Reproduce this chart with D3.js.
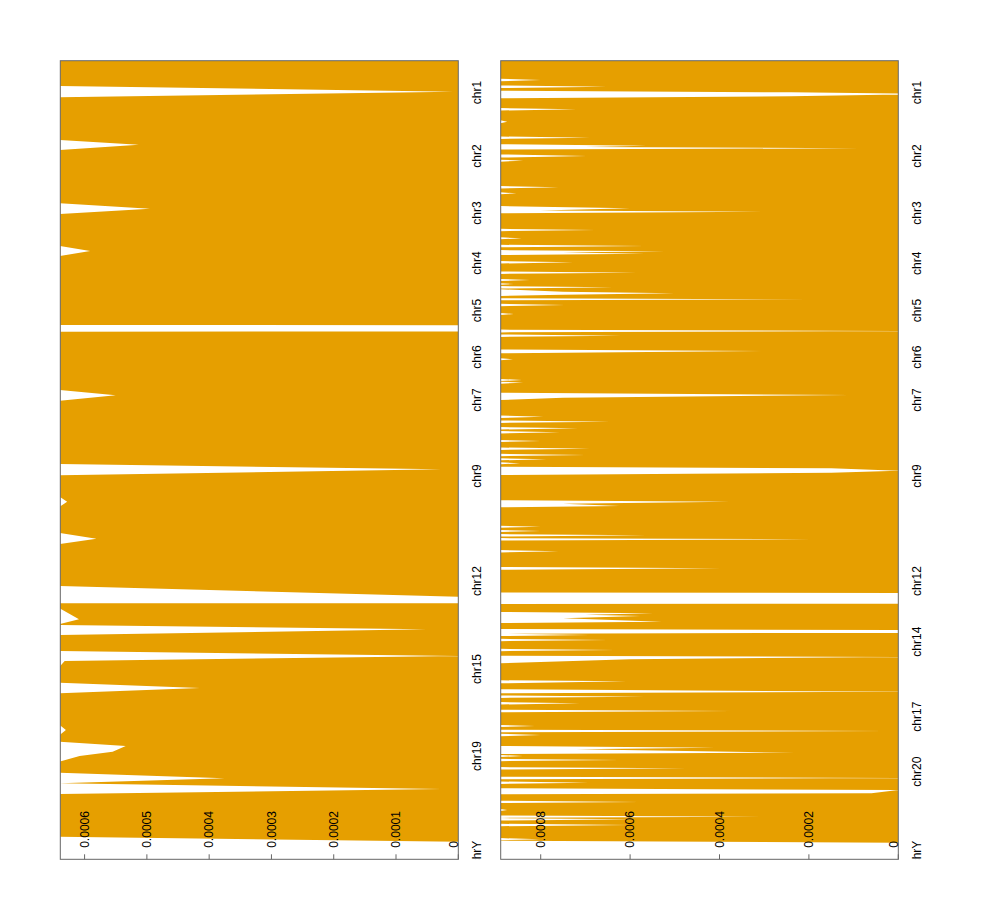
<!DOCTYPE html>
<html><head><meta charset="utf-8">
<script src="https://cdn.jsdelivr.net/npm/d3@7"></script>
<style>body{margin:0;background:#fff}</style></head><body>
<script>
// ---------- data ----------
// value ceiling (at / just above the axis range, clipped by the panel)
const HI1 = 0.00064;
const HI2 = 0.00089;

// panel A: [genome position index, value]
const seriesA = [
 [0,HI1],[25.3,HI1],[31.0,0.000008],[36.6,HI1],
 [79.3,HI1],[84.0,0.000513],[89.3,HI1],
 [142.6,HI1],[148.0,0.000495],[153.3,HI1],
 [185.3,HI1],[190.3,0.000591],[195.3,HI1],
 [264.3,HI1],[264.5,0],[270.8,0],[271.0,HI1],
 [329.3,HI1],[334.6,0.00055],[340,HI1],
 [403.3,HI1],[408.6,0.000027],[414.6,HI1],
 [436,HI1],[441,0.000628],[446,HI1],
 [472.3,HI1],[478,0.000581],[483.3,HI1],
 [525.3,HI1],[536,0],[542.3,0],[542.6,HI1],
 [547.6,HI1],[558.6,0.000609],[563.3,HI1],
 [564.3,HI1],[568.6,0.000051],[574.3,HI1],
 [590.3,HI1],[595.3,0],[600.3,0.000632],[606,HI1],
 [622,HI1],[627.3,0.000415],[632.6,HI1],
 [664.3,HI1],[669.3,0.00063],[674.3,HI1],
 [681,HI1],[685.3,0.000534],[691,0.000555],[695.3,0.000608],[701,HI1],
 [712,HI1],[717.6,0.000375],[722.6,HI1],[728.3,0.000027],[733.3,HI1],
 [776,HI1],[781,0]
];

// panel B: [genome position index, value]
const seriesB = [
 [0,HI2],
 [18.1,HI2],[19.3,0.0008],[20.5,HI2],
 [24.7,HI2],[26,0.000652],[27.3,HI2],
 [30,HI2],[31.6,0.00024],[32.8,0],[33.8,0],[35.6,0.00024],[37.6,HI2],
 [47.4,HI2],[48.6,0.00072],[49.8,HI2],
 [59.5,HI2],[61,0.000875],[62.5,HI2],
 [75.8,HI2],[77,0.00069],[78.2,HI2],
 [83.5,HI2],[85,0.000563],[86.3,0.0007],[87.6,0.000086],[88.8,HI2],
 [93.7,HI2],[95.3,0.000697],[96.9,HI2],
 [99,HI2],[100,0.000839],[101,HI2],
 [125.4,HI2],[126.6,0.00076],[127.8,HI2],
 [131.6,HI2],[132.6,0.000854],[133.6,HI2],
 [145.3,HI2],[147.6,0.0006],[149.8,0.0008],[151,0.000302],[152.6,HI2],
 [168.1,HI2],[169.3,0.000678],[170.5,HI2],
 [176.6,HI2],[177.6,0.000842],[178.6,HI2],
 [184.1,HI2],[185.3,0.000567],[186.6,HI2],
 [189.4,HI2],[190.6,0.000522],[191.9,0.00075],[193.1,0.000567],[194.4,HI2],
 [200.4,HI2],[201.6,0.000727],[202.8,HI2],
 [210.8,HI2],[212,0.000585],[213.2,HI2],
 [218.3,HI2],[219.3,0.000824],[220.3,HI2],
 [222.5,HI2],[223.3,0.00086],[224.1,HI2],
 [225.4,HI2],[226.6,0.000638],[227.8,HI2],
 [228.6,HI2],[231,0.00075],[232.6,0.0005],[234,0.00075],[235.3,HI2],
 [237.6,HI2],[238.6,0.0002],[239.6,HI2],
 [243.1,HI2],[244.3,0.000746],[245.5,HI2],
 [252.3,HI2],[253.3,0.00086],[254.3,HI2],
 [268.9,HI2],[270.3,0],[271.7,HI2],
 [273.8,HI2],[275,0.000619],[276.2,HI2],
 [288.8,HI2],[290.3,0.000306],[292.6,HI2],
 [297.6,HI2],[298.6,0.000862],[299.6,HI2],
 [318.3,HI2],[319.3,0.000842],[320.3,HI2],
 [321,HI2],[322,0.000839],[323,HI2],
 [332,HI2],[334.3,0.000108],[337,0.00075],[339.3,HI2],
 [354.8,HI2],[356,0.000794],[357.2,HI2],
 [359.8,HI2],[361,0.000645],[362.2,HI2],
 [366.4,HI2],[367.6,0.000716],[368.8,HI2],
 [370.4,HI2],[371.6,0.000757],[372.8,HI2],
 [379.3,HI2],[380.3,0.0008],[381.3,HI2],
 [386.8,HI2],[388,0.00069],[389.2,HI2],
 [393.1,HI2],[394.3,0.0007],[395.5,HI2],
 [397.6,HI2],[398.6,0.000787],[399.6,HI2],
 [401.6,HI2],[402.6,0.000846],[403.6,HI2],
 [406,HI2],[407.6,0.00015],[410,0],[412,0.00015],[414.3,HI2],
 [439.6,HI2],[441,0.000377],[443,0.00075],[445.3,0.000623],[446.6,HI2],
 [465,HI2],[466,0.0008],[467,HI2],
 [469.3,HI2],[470.3,0.0008],[471.3,HI2],
 [473.4,HI2],[474.6,0.000563],[475.8,HI2],
 [477.4,HI2],[478.6,0.000194],[479.8,HI2],
 [489.4,HI2],[490.6,0.00076],[491.8,HI2],
 [506.2,HI2],[507.6,0.000395],[509,HI2],
 [531.8,HI2],[532.3,0],[542.8,0],[543.3,HI2],
 [551.3,HI2],[552.6,0.000548],[554,0.0007],[555.3,0.000577],[557.5,0.00075],[561,0.000529],[562.3,HI2],
 [568.3,HI2],[569.3,0],[572,0],[573,HI2],[574.3,0.00069],[575.3,HI2],
 [578.1,HI2],[579.3,0.000649],[580.5,HI2],
 [588.1,HI2],[589.3,0.000634],[590.5,HI2],
 [595,HI2],[596.3,0],[598.5,0.0006],[602.6,HI2],
 [619.6,HI2],[620.6,0.000608],[622.6,HI2],
 [628.6,HI2],[631,0],[632.6,HI2],
 [634.8,HI2],[636,0.000567],[637.2,HI2],
 [641.4,HI2],[642.6,0.000712],[643.8,HI2],
 [649.1,HI2],[650.3,0.000373],[651.5,HI2],
 [664.3,HI2],[665.3,0.000813],[666.3,HI2],
 [669.1,HI2],[670.3,0.000026],[671.5,HI2],
 [673.1,HI2],[674.3,0.0008],[675.5,HI2],
 [685.3,HI2],[687,0.00041],[688.6,0.00072],[692,0.000231],[693.3,HI2],
 [694.3,HI2],[695.3,0.00084],[696.3,HI2],
 [698.1,HI2],[699.3,0.000623],[700.5,HI2],
 [706.4,HI2],[707.6,0.000473],[708.8,HI2],
 [716,HI2],[717.3,0],[718.6,HI2],
 [720.8,HI2],[722,0.000693],[723.2,HI2],
 [727.6,HI2],[729.3,0],[732.6,0.00006],[733.5,HI2],
 [740,HI2],[741.2,0.00058],[742.4,HI2],
 [748.3,HI2],[749.3,0.000875],[750.3,HI2],
 [754.8,HI2],[756,0.000306],[757.2,HI2],
 [757.4,HI2],[758.6,0.000585],[759.8,HI2],
 [763.1,HI2],[764.3,0.0006],[765.5,HI2],
 [777.4,HI2],[778.6,0.0008],[779.6,HI2],
 [780,HI2],[782,0]
];

// chromosome labels and their positions
const chrLabelsA = ["chr1","chr2","chr3","chr4","chr5","chr6","chr7","chr9","chr12","chr15","chr19","chrY"];
const chrPosA    = [31.8,95.3,152.3,202.3,249.8,296.3,339.3,415.4,520.4,608.3,695.3,792.3];
const chrLabelsB = ["chr1","chr2","chr3","chr4","chr5","chr6","chr7","chr9","chr12","chr14","chr17","chr20","chrY"];
const chrPosB    = [31.8,95.3,152.3,202.6,249.8,296.5,339.3,415.4,520.4,581,656,711,792.3];

// value axis ticks
const ticksA = [0,0.0001,0.0002,0.0003,0.0004,0.0005,0.0006];
const tickLabelsA = ["0","0.0001","0.0002","0.0003","0.0004","0.0005","0.0006"];
const ticksB = [0,0.0002,0.0004,0.0006,0.0008];
const tickLabelsB = ["0","0.0002","0.0004","0.0006","0.0008"];

const posMax = 798.6;
const valMaxA = 0.000639;
const valMaxB = 0.0008895;

// ---------- drawing ----------
const svg = d3.select("body").append("svg")
  .attr("width", 990).attr("height", 920)
  .style("font-family", "'Liberation Sans', Arial, Helvetica, sans-serif");

const yTop = 60.7, yBottom = 859.3;
const y = d3.scaleLinear().domain([0, posMax]).range([yTop, yBottom]);

const panels = [
  {id:"a", left:60.3, right:458.3, max:valMaxA, data:seriesA, ticks:ticksA, tickLabels:tickLabelsA, chr:chrLabelsA, chrPos:chrPosA},
  {id:"b", left:500.7, right:898.3, max:valMaxB, data:seriesB, ticks:ticksB, tickLabels:tickLabelsB, chr:chrLabelsB, chrPos:chrPosB}
];

const defs = svg.append("defs");
defs.append("clipPath").attr("id","textclip").append("rect")
  .attr("x",0).attr("y",0).attr("width",990).attr("height",yBottom);

panels.forEach(p => {
  const x = d3.scaleLinear().domain([0, p.max]).range([p.right, p.left]);
  defs.append("clipPath").attr("id","clip-"+p.id).append("rect")
    .attr("x", p.left).attr("y", yTop).attr("width", p.right - p.left).attr("height", yBottom - yTop);

  const g = svg.append("g");
  const area = d3.area()
    .y(d => y(d[0]))
    .x0(x(0))
    .x1(d => x(d[1]));
  g.append("path").datum(p.data)
    .attr("clip-path", "url(#clip-"+p.id+")")
    .attr("fill", "#E69F00")
    .attr("d", area);

  g.append("rect")
    .attr("x", p.left).attr("y", yTop)
    .attr("width", p.right - p.left).attr("height", yBottom - yTop)
    .attr("fill", "none").attr("stroke", "#666").attr("stroke-width", 1);

  // value ticks (inward) and labels
  g.selectAll(".tk").data(p.ticks).enter().append("line")
    .attr("x1", d => x(d)).attr("x2", d => x(d))
    .attr("y1", yBottom).attr("y2", yBottom - 5)
    .attr("stroke", "#666").attr("stroke-width", 1);
  g.selectAll(".tl").data(p.ticks).enter().append("text")
    .attr("transform", d => `translate(${x(d) - (d === 0 ? 5 : 0)},${yBottom - 11.5}) rotate(-90)`)
    .attr("dy", "0.35em")
    .attr("text-anchor", "start")
    .attr("font-size", 12)
    .attr("fill", "#000")
    .text((d,i) => p.tickLabels[i]);

  // chromosome labels
  const cg = g.append("g").attr("clip-path","url(#textclip)");
  cg.selectAll("text").data(p.chr).enter().append("text")
    .attr("transform", (d,i) => `translate(${p.right + 18},${y(p.chrPos[i])}) rotate(-90)`)
    .attr("dy", "0.35em")
    .attr("text-anchor", "middle")
    .attr("font-size", 12)
    .attr("fill", "#000")
    .text(d => d);
});
</script>
</body></html>
